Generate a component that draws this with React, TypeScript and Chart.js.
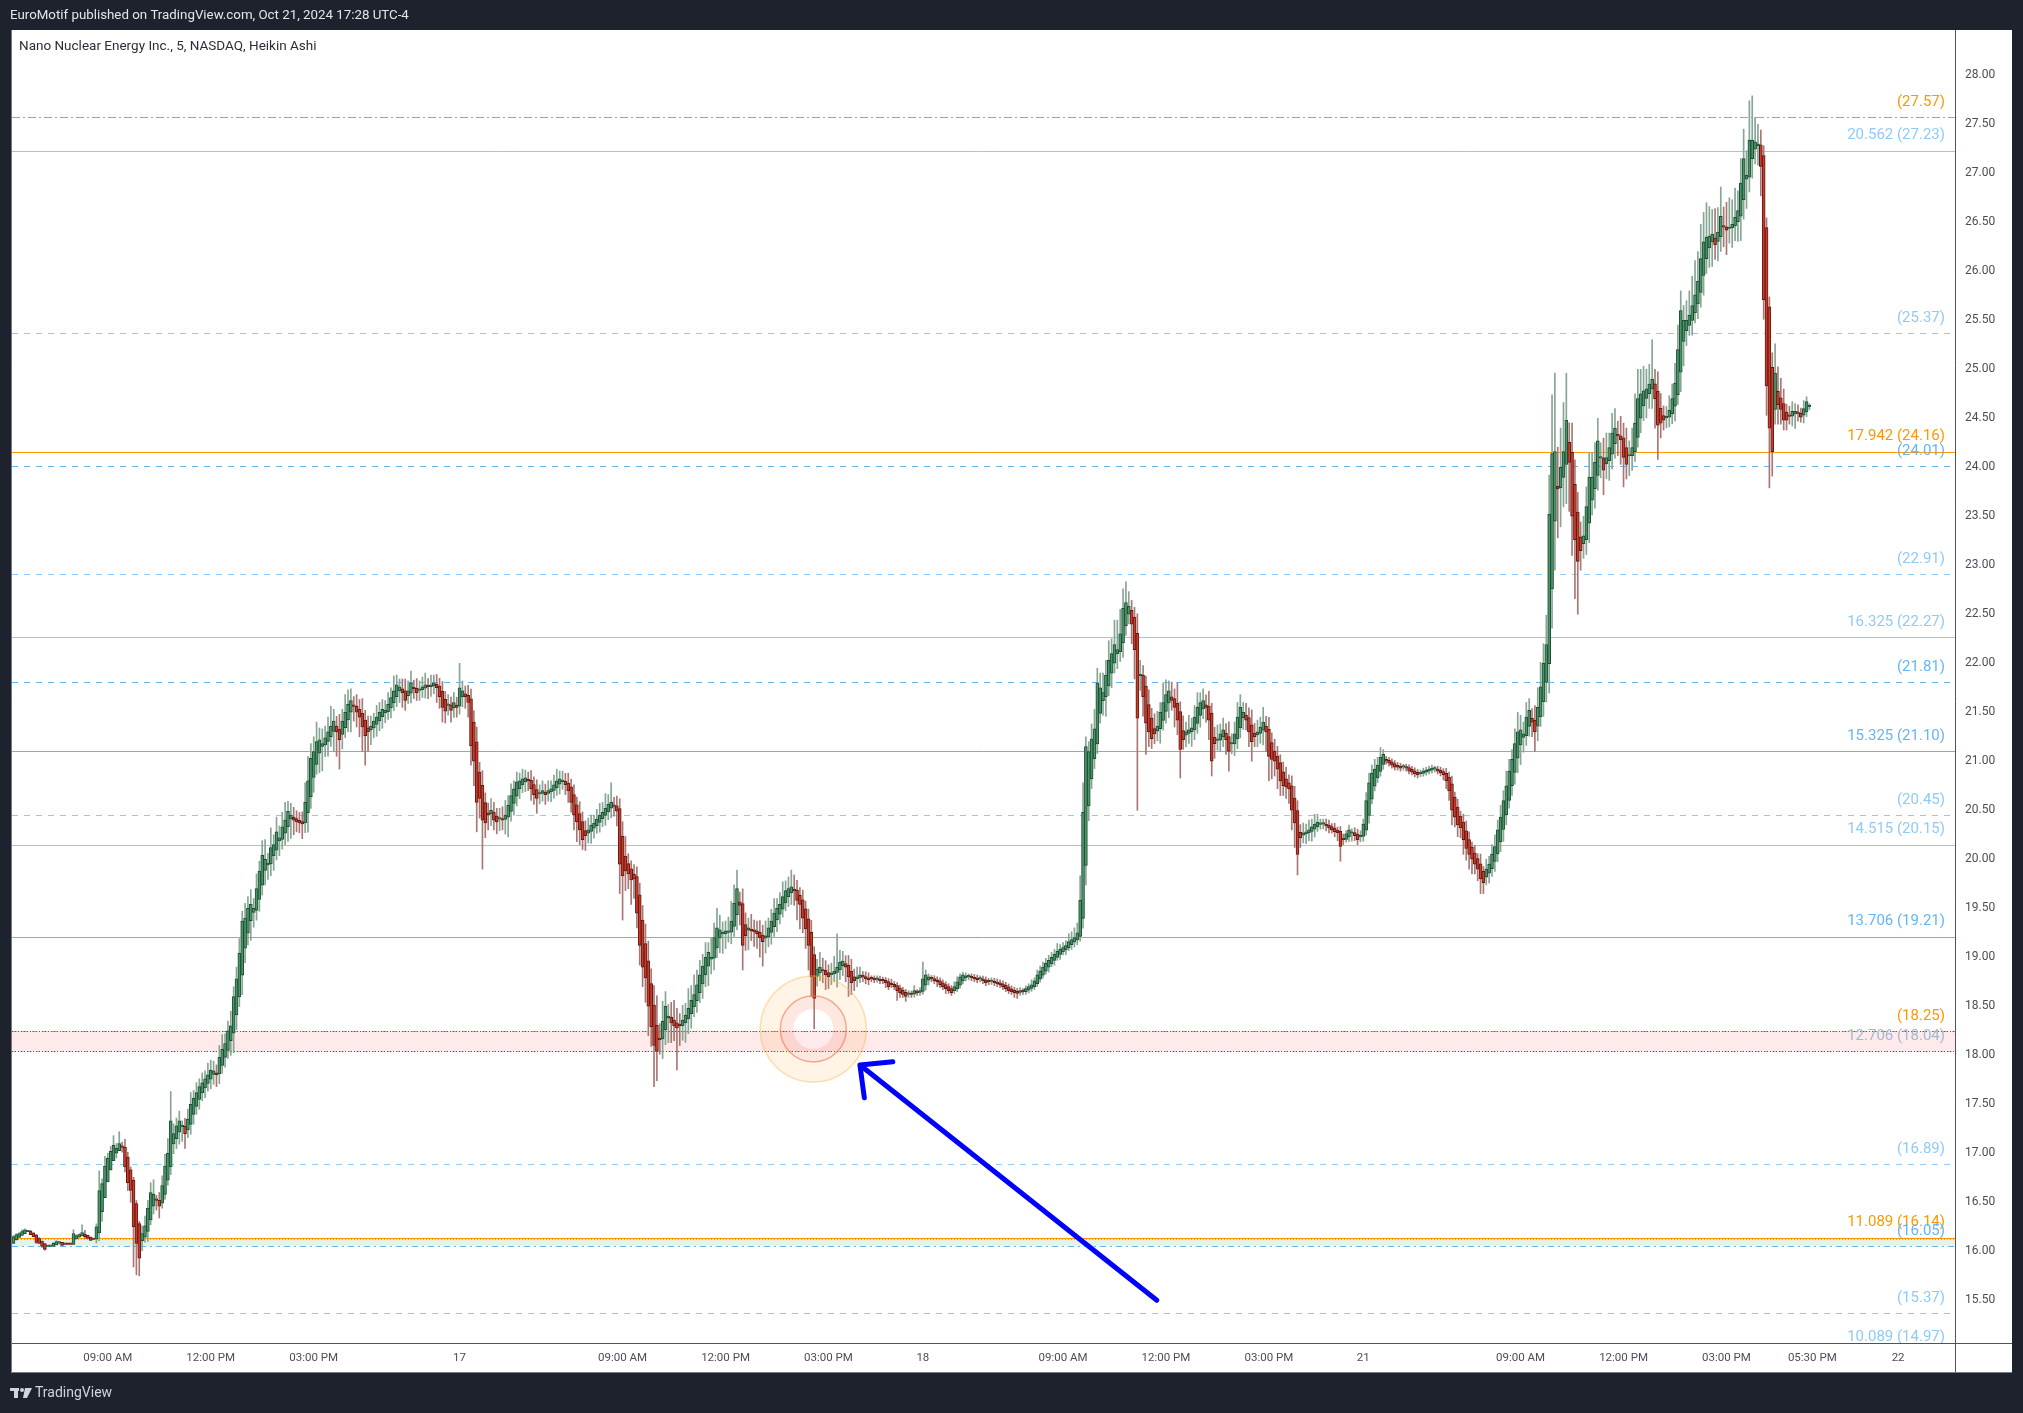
import React, { useEffect, useRef } from 'react';
import { Chart, registerables } from 'chart.js';

Chart.register(...registerables);

const W = 2023;
const H = 1413;

// ---------------- DATA ----------------
const FIRST_OPEN = 16.08;

// Heikin Ashi close per 5-min bar (Oct 16 -> Oct 21)
const closes = [
  16.15,16.17,16.18,16.20,16.22,16.21,16.17,16.15,16.09,16.08,
  16.05,16.02,16.05,16.05,16.08,16.10,16.10,16.06,16.07,16.07,
  16.07,16.18,16.16,16.17,16.19,16.15,16.13,16.11,16.12,16.25,
  16.62,16.69,16.87,16.95,17.02,17.08,17.05,17.10,17.06,16.86,
  16.70,16.62,16.25,16.08,15.93,16.18,16.26,16.44,16.60,16.58,
  16.52,16.46,16.67,16.87,17.00,17.33,17.20,17.28,17.33,17.28,
  17.20,17.35,17.50,17.56,17.62,17.68,17.72,17.76,17.80,17.85,
  17.84,17.80,17.98,18.06,18.12,18.25,18.30,18.60,18.78,19.04,
  19.37,19.40,19.50,19.54,19.50,19.70,19.88,20.04,20.00,19.96,
  20.12,20.15,20.28,20.22,20.33,20.40,20.49,20.45,20.40,20.38,
  20.37,20.36,20.58,20.80,21.03,21.10,21.20,21.22,21.18,21.24,
  21.30,21.36,21.41,21.30,21.22,21.41,21.50,21.58,21.62,21.56,
  21.50,21.45,21.35,21.26,21.30,21.36,21.41,21.45,21.50,21.53,
  21.52,21.58,21.65,21.72,21.78,21.76,21.70,21.62,21.72,21.80,
  21.74,21.70,21.74,21.76,21.78,21.76,21.78,21.80,21.75,21.66,
  21.55,21.51,21.58,21.52,21.60,21.55,21.75,21.72,21.66,21.60,
  21.16,21.00,20.58,20.62,20.40,20.37,20.45,20.50,20.40,20.38,
  20.42,20.40,20.45,20.55,20.65,20.72,20.79,20.80,20.82,20.83,
  20.80,20.72,20.66,20.62,20.68,20.70,20.66,20.70,20.72,20.76,
  20.80,20.82,20.80,20.76,20.70,20.58,20.45,20.38,20.30,20.20,
  20.24,20.30,20.35,20.37,20.41,20.45,20.48,20.52,20.56,20.58,
  20.54,20.49,19.95,19.83,19.88,19.85,19.79,19.80,19.45,19.12,
  18.90,18.79,18.50,18.29,18.10,18.04,18.16,18.35,18.50,18.40,
  18.33,18.30,18.28,18.30,18.36,18.41,18.48,18.56,18.62,18.72,
  18.82,18.91,19.00,19.05,19.00,19.20,19.30,19.28,19.24,19.27,
  19.26,19.37,19.55,19.70,19.53,19.12,19.22,19.30,19.27,19.26,
  19.24,19.20,19.16,19.22,19.30,19.37,19.45,19.50,19.54,19.62,
  19.68,19.70,19.72,19.68,19.58,19.54,19.40,19.29,19.12,18.80,
  18.58,18.88,18.90,18.86,18.82,18.80,18.84,18.86,18.90,18.95,
  18.96,18.90,18.80,18.74,18.76,18.80,18.82,18.80,18.78,18.77,
  18.78,18.77,18.78,18.76,18.76,18.74,18.70,18.72,18.70,18.66,
  18.64,18.62,18.60,18.63,18.62,18.66,18.64,18.66,18.78,18.82,
  18.80,18.78,18.76,18.75,18.72,18.70,18.68,18.66,18.64,18.70,
  18.75,18.80,18.82,18.81,18.80,18.79,18.78,18.77,18.78,18.76,
  18.74,18.75,18.76,18.74,18.73,18.72,18.70,18.68,18.66,18.65,
  18.64,18.63,18.66,18.65,18.68,18.70,18.72,18.76,18.82,18.86,
  18.90,18.94,18.97,19.00,19.03,19.06,19.08,19.10,19.12,19.16,
  19.18,19.20,19.25,19.58,20.48,21.15,21.10,21.23,21.33,21.80,
  21.75,21.70,21.88,22.03,22.10,22.19,22.14,22.30,22.56,22.62,
  22.58,22.40,22.14,21.44,21.88,21.66,21.39,21.30,21.23,21.28,
  21.36,21.50,21.60,21.68,21.72,21.62,21.55,21.42,21.12,21.22,
  21.30,21.32,21.34,21.45,21.55,21.60,21.62,21.55,21.42,21.00,
  21.18,21.22,21.28,21.32,21.22,21.10,21.18,21.28,21.45,21.55,
  21.50,21.42,21.30,21.20,21.25,21.30,21.35,21.40,21.30,21.05,
  21.02,21.00,20.92,20.80,20.75,20.74,20.72,20.50,20.37,20.05,
  20.22,20.27,20.28,20.30,20.33,20.36,20.38,20.36,20.36,20.34,
  20.32,20.30,20.28,20.27,20.13,20.20,20.26,20.30,20.28,20.24,
  20.20,20.24,20.36,20.60,20.78,20.88,20.92,20.96,21.04,21.07,
  21.00,20.98,20.96,20.94,20.94,20.93,20.94,20.93,20.90,20.89,
  20.87,20.86,20.88,20.90,20.91,20.92,20.93,20.92,20.90,20.88,
  20.86,20.80,20.70,20.50,20.43,20.35,20.32,20.20,20.11,20.05,
  20.00,19.95,19.90,19.80,19.76,19.90,19.95,20.05,20.13,20.30,
  20.43,20.60,20.75,20.90,21.02,21.18,21.30,21.32,21.28,21.45,
  21.52,21.40,21.30,21.55,21.76,22.00,22.19,23.52,24.14,24.16,
  23.78,24.00,24.16,24.48,24.05,23.50,23.26,23.04,23.15,23.30,
  23.60,23.90,23.90,24.05,24.27,24.10,23.97,24.10,24.20,24.35,
  24.40,24.32,24.28,24.10,24.03,24.12,24.20,24.45,24.70,24.75,
  24.78,24.80,24.85,24.90,24.70,24.43,24.45,24.48,24.52,24.58,
  24.70,24.86,25.20,25.60,25.50,25.50,25.55,25.65,25.76,25.90,
  26.13,26.30,26.35,26.36,26.38,26.27,26.40,26.56,26.45,26.42,
  26.45,26.48,26.55,26.62,26.90,27.15,26.98,27.34,27.34,27.32,
  27.30,27.07,25.71,24.83,24.40,24.16,24.96,24.64,24.59,24.48,
  24.48,24.52,24.57,24.57,24.55,24.51,24.60,24.67,24.62,
];

// upper shadow above the body, in cents
const wickUp = [
  1,1,1,2,1,0,1,0,0,1, 0,0,0,0,1,1,0,0,0,0, 0,4,1,1,8,4,0,0,0,3,
  20,5,10,5,5,10,5,12,5,8, 5,3,3,3,2,8,10,8,10,15, 5,8,10,12,15,30,10,8,10,5,
  8,10,12,8,10,8,10,8,12,10, 10,8,12,15,10,10,15,10,12,15, 10,15,12,15,10,15,10,15,20,10,
  20,10,15,12,15,18,10,12,10,8, 8,10,20,25,15,15,20,12,15,12, 15,20,12,10,15,12,18,15,12,10,
  12,10,15,10,12,10,8,12,10,10, 10,12,10,15,10,8,10,12,10,12, 8,10,8,10,12,8,10,8,10,8,
  10,8,10,8,10,8,25,10,8,10, 10,12,15,10,15,10,10,12,10,8, 10,12,15,10,12,8,10,8,10,8,
  8,10,8,10,8,10,8,10,8,10, 12,8,10,8,10,8,10,8,12,10, 10,12,10,8,10,12,10,15,10,20,
  8,10,10,15,20,10,8,10,10,12, 15,20,20,15,20,30,15,20,15,12, 15,20,15,12,15,12,20,15,20,15,
  15,12,15,10,20,15,20,15,12,10, 15,20,19,19,10,15,12,10,15,10, 10,12,10,15,10,12,15,10,12,15,
  10,12,17,15,10,8,10,8,10,12, 8,10,15,12,10,8,10,15,34,12, 10,8,10,12,8,10,8,5,5,5,
  3,3,3,3,3,3,3,5,3,3, 3,3,3,3,3,5,3,3,17,5, 3,3,3,3,3,3,3,3,3,5,
  5,3,3,3,3,3,3,3,3,3, 3,3,3,3,3,3,3,3,3,3, 3,3,3,3,3,3,5,3,5,5,
  5,5,5,5,5,8,5,5,5,8, 8,10,10,25,30,10,10,15,20,15, 15,20,15,20,15,25,30,25,20,21,
  15,10,10,20,15,10,10,15,10,15, 15,10,20,15,10,15,10,20,10,15, 10,15,10,12,15,10,12,10,15,10,
  10,15,10,12,10,15,10,12,15,13, 10,12,10,15,10,12,10,15,10,12, 10,12,10,8,10,12,8,10,12,10,
  8,10,8,10,8,10,8,5,5,5, 5,3,5,3,5,5,3,5,3,5, 5,5,5,8,10,8,10,8,10,5,
  3,3,3,3,3,3,3,3,3,3, 3,3,3,3,3,3,3,3,3,3, 3,5,5,8,5,8,5,8,10,8,
  5,8,5,10,5,10,8,10,12,10, 12,10,15,12,10,15,20,15,12,15, 12,10,15,20,25,20,30,40,60,80,
  40,40,50,48,20,30,25,20,15,20, 20,25,25,20,23,15,20,25,15,20, 20,15,20,15,20,15,20,30,30,25,
  25,20,20,40,15,20,15,10,10,15, 15,20,25,20,15,20,25,30,35,30, 35,30,35,30,25,30,25,30,20,25,
  30,25,30,20,25,30,25,40,45,25, 20,15,10,10,10,15,30,25,20,15, 8,10,10,8,8,5,8,5,3,
];

// lower shadow below the body, in cents
const wickDn = [
  0,0,0,0,0,0,0,0,1,0, 1,1,0,0,0,0,1,0,0,0, 0,0,0,0,0,2,0,0,0,4,
  8,10,0,0,0,0,5,0,5,5, 8,12,41,32,18,10,5,10,5,8, 10,12,5,5,5,8,10,10,12,15,
  15,8,10,10,8,10,8,10,8,10, 10,12,10,8,10,8,15,20,15,10, 20,15,12,20,15,10,12,10,15,15,
  12,15,10,15,10,12,15,20,15,10, 10,15,10,20,12,15,10,20,25,12, 15,10,20,25,30,15,10,12,20,15,
  15,20,25,30,20,15,10,12,10,12, 10,8,10,8,10,12,15,10,8,10, 10,8,10,8,10,12,10,8,15,12,
  15,12,10,12,10,10,8,10,12,15, 20,25,30,20,50,15,15,12,10,12, 12,10,15,20,10,12,10,10,8,10,
  10,12,10,15,10,8,10,8,10,8, 8,10,8,10,12,10,15,20,15,10, 15,10,12,10,8,10,8,10,8,10,
  10,15,30,45,20,15,25,20,15,20, 20,25,30,20,42,30,15,20,15,25, 20,15,43,20,15,20,15,15,10,12,
  10,15,12,20,15,12,10,15,20,15, 10,12,10,15,20,25,15,20,10,15, 15,20,25,15,10,12,10,12,10,8,
  8,10,12,15,20,25,15,20,25,20, 31,10,8,12,15,12,10,8,15,10, 10,15,20,12,10,8,5,5,5,5,
  3,3,3,3,3,5,3,3,3,10, 5,3,5,3,3,3,3,3,3,5, 5,3,3,5,3,3,5,3,3,3,
  3,3,3,3,3,3,3,3,3,3, 3,3,3,3,3,3,3,3,3,3, 5,5,3,3,3,3,3,3,3,3,
  3,3,5,3,5,3,5,3,5,3, 5,5,5,5,10,20,15,10,10,10, 10,15,20,10,15,10,15,10,15,10,
  10,20,30,94,15,20,32,15,10,10, 10,15,10,12,15,10,20,15,29,10, 12,10,15,10,10,12,10,15,20,15,
  15,10,12,10,15,20,10,12,10,10, 12,10,15,20,10,12,10,15,20,25, 20,15,20,15,10,12,15,20,25,21,
  10,8,10,8,10,8,5,5,5,5, 5,3,5,8,15,5,3,5,8,5, 5,5,5,5,8,5,5,5,5,5,
  3,3,3,3,3,3,3,3,3,3, 3,3,3,3,3,3,3,3,3,3, 5,8,10,15,10,12,10,15,12,15,
  15,10,12,15,11,8,10,8,10,8, 10,12,10,8,10,12,15,20,15,10, 10,15,20,15,10,15,20,30,40,50,
  50,40,30,40,50,40,60,54,20,15, 15,20,15,20,15,20,25,15,20,15, 15,20,25,30,15,20,15,10,10,15,
  15,20,15,20,30,35,15,10,10,10, 10,15,10,20,25,15,10,15,10,15, 15,20,15,20,25,15,20,15,20,25,
  15,20,15,20,25,20,30,15,20,15, 20,30,20,30,61,25,15,20,15,10, 10,8,10,15,8,5,8,5,3,
];

// time axis labels (bar index -> text)
const timeTickBars = [33, 69, 105, 156, 213, 249, 285, 318, 367, 403, 439, 472, 527, 563, 599, 629, 659];
const timeTickLabels = ['09:00 AM', '12:00 PM', '03:00 PM', '17', '09:00 AM', '12:00 PM', '03:00 PM', '18',
  '09:00 AM', '12:00 PM', '03:00 PM', '21', '09:00 AM', '12:00 PM', '03:00 PM', '05:30 PM', '22'];

const priceTicks = [15.5, 16, 16.5, 17, 17.5, 18, 18.5, 19, 19.5, 20, 20.5, 21, 21.5, 22, 22.5, 23, 23.5,
  24, 24.5, 25, 25.5, 26, 26.5, 27, 27.5, 28];

// Fibonacci / level lines
const levelPrices = [27.57, 27.23, 25.37, 24.16, 24.01, 22.91, 22.27, 21.81, 21.10, 20.45, 20.15, 19.21,
  18.25, 18.04, 16.89, 16.14, 16.05, 15.37, 14.97];
const levelValues = ['', '20.562', '', '17.942', '', '', '16.325', '', '15.325', '', '14.515', '13.706',
  '', '12.706', '', '11.089', '', '', '10.089'];

// zones (price ranges)
const redZone = [18.04, 18.25];
const greenZone = [16.05, 16.14];

// annotation anchors (bar index, price)
const circleAnchor = { bar: 279.7, price: 18.268 };
const arrowTail = { bar: 399.8, price: 15.5 };
const arrowTip = { bar: 296.0, price: 17.9 };

// ---------------- STYLES ----------------
const DARK = '#1e222d';
const ORANGE = '#ff9800';
const LBLUE = '#90caf9';
const MBLUE = '#64b5f6';
const FONT = "Roboto, 'Noto Sans', sans-serif";

type LStyle = { color: string; text: string; dash: number[] };
const levelStyles: LStyle[] = [
  { color: ORANGE, text: ORANGE, dash: [8, 3, 2, 3] },
  { color: LBLUE, text: LBLUE, dash: [] },
  { color: LBLUE, text: LBLUE, dash: [6, 6] },
  { color: ORANGE, text: ORANGE, dash: [] },
  { color: MBLUE, text: MBLUE, dash: [6, 6] },
  { color: LBLUE, text: LBLUE, dash: [6, 6] },
  { color: LBLUE, text: LBLUE, dash: [] },
  { color: MBLUE, text: MBLUE, dash: [6, 6] },
  { color: MBLUE, text: MBLUE, dash: [] },
  { color: LBLUE, text: LBLUE, dash: [6, 6] },
  { color: LBLUE, text: LBLUE, dash: [] },
  { color: MBLUE, text: MBLUE, dash: [] },
  { color: ORANGE, text: ORANGE, dash: [5, 5] },
  { color: LBLUE, text: '#a3b9d0', dash: [4, 4] },
  { color: LBLUE, text: LBLUE, dash: [6, 6] },
  { color: ORANGE, text: ORANGE, dash: [] },
  { color: MBLUE, text: MBLUE, dash: [6, 4, 2, 4] },
  { color: LBLUE, text: LBLUE, dash: [6, 6] },
  { color: LBLUE, text: LBLUE, dash: [] },
];

const UP_FILL = '#4a9468';
const UP_BORDER = '#1e4d33';
const DN_FILL = '#cc3b2c';
const DN_BORDER = '#5e1a12';
const UP_WICK = '#86a593';
const DN_WICK = '#a87773';

// ---------------- HEIKIN ASHI DERIVATION ----------------
const opens: number[] = [];
closes.forEach((c, i) => {
  opens.push(i === 0 ? FIRST_OPEN : (opens[i - 1] + closes[i - 1]) / 2);
});
const highs = closes.map((c, i) => Math.max(opens[i], c) + (wickUp[i] || 0) / 100);
const lows = closes.map((c, i) => Math.min(opens[i], c) - (wickDn[i] || 0) / 100);
const isUp = closes.map((c, i) => c >= opens[i]);

const decorPlugin = {
  id: 'tvDecor',
  beforeDraw(chart: any) {
    const { ctx } = chart;
    const a = chart.chartArea;
    const ys = chart.scales.y;
    const xs = chart.scales.x;
    ctx.save();
    ctx.fillStyle = DARK;
    ctx.fillRect(0, 0, chart.width, chart.height);
    ctx.fillStyle = '#ffffff';
    ctx.fillRect(a.left, a.top, ys.right - a.left, xs.bottom - a.top);

    // header
    ctx.fillStyle = '#e3e5ea';
    ctx.font = `13.3px ${FONT}`;
    ctx.textBaseline = 'middle';
    ctx.textAlign = 'left';
    ctx.fillText('EuroMotif published on TradingView.com, Oct 21, 2024 17:28 UTC-4', a.left - 2, a.top - 14.5);

    // title
    ctx.fillStyle = '#2a2e39';
    ctx.font = `13.5px ${FONT}`;
    ctx.fillText('Nano Nuclear Energy Inc., 5, NASDAQ, Heikin Ashi', a.left + 7, a.top + 16.5);

    // footer logo + text
    const fy = xs.bottom + 20;
    ctx.fillStyle = '#d1d4dc';
    ctx.fillRect(a.left - 2, fy - 5, 9, 3);
    ctx.fillRect(a.left + 2, fy - 5, 4, 10);
    ctx.beginPath();
    ctx.arc(a.left + 10, fy - 3, 2, 0, Math.PI * 2);
    ctx.fill();
    ctx.beginPath();
    ctx.moveTo(a.left + 13, fy - 5);
    ctx.lineTo(a.left + 20, fy - 5);
    ctx.lineTo(a.left + 15, fy + 5);
    ctx.lineTo(a.left + 11, fy + 5);
    ctx.closePath();
    ctx.fill();
    ctx.font = `14px ${FONT}`;
    ctx.fillText('TradingView', a.left + 23, fy);
    ctx.restore();
  },
  beforeDatasetsDraw(chart: any) {
    const { ctx } = chart;
    const a = chart.chartArea;
    const ys = chart.scales.y;
    ctx.save();
    ctx.beginPath();
    ctx.rect(a.left, a.top, a.right - a.left, a.bottom - a.top);
    ctx.clip();

    // zones
    const rz0 = ys.getPixelForValue(redZone[1]);
    const rz1 = ys.getPixelForValue(redZone[0]);
    ctx.fillStyle = 'rgba(242, 54, 69, 0.11)';
    ctx.fillRect(a.left, rz0, a.right - a.left, rz1 - rz0);
    const gz0 = ys.getPixelForValue(greenZone[1]);
    const gz1 = ys.getPixelForValue(greenZone[0]);
    ctx.fillStyle = 'rgba(76, 175, 80, 0.15)';
    ctx.fillRect(a.left, gz0, a.right - a.left, gz1 - gz0);

    // level lines
    levelPrices.forEach((p, i) => {
      const st = levelStyles[i];
      const y = Math.round(ys.getPixelForValue(p)) + 0.5;
      ctx.strokeStyle = st.color;
      ctx.lineWidth = 1;
      ctx.setLineDash(st.dash);
      ctx.beginPath();
      ctx.moveTo(a.left, y);
      ctx.lineTo(a.right, y);
      ctx.stroke();
    });

    // zone edge dotted lines
    ctx.setLineDash([1, 2]);
    ctx.strokeStyle = '#d8283c';
    ctx.beginPath();
    ctx.moveTo(a.left, Math.round(rz0) + 0.5);
    ctx.lineTo(a.right, Math.round(rz0) + 0.5);
    ctx.stroke();
    ctx.strokeStyle = '#9c2a6a';
    ctx.beginPath();
    ctx.moveTo(a.left, Math.round(rz1) + 0.5);
    ctx.lineTo(a.right, Math.round(rz1) + 0.5);
    ctx.stroke();
    ctx.strokeStyle = '#8bc34a';
    ctx.beginPath();
    ctx.moveTo(a.left, Math.round(gz0) + 1.5);
    ctx.lineTo(a.right, Math.round(gz0) + 1.5);
    ctx.stroke();
    ctx.setLineDash([]);

    // labels
    ctx.font = `15px ${FONT}`;
    ctx.textAlign = 'right';
    ctx.textBaseline = 'middle';
    levelPrices.forEach((p, i) => {
      const st = levelStyles[i];
      const y = ys.getPixelForValue(p);
      const txt = (levelValues[i] ? levelValues[i] + ' ' : '') + '(' + p.toFixed(2) + ')';
      ctx.fillStyle = st.text;
      ctx.fillText(txt, a.right - 10, y - 15);
    });
    ctx.restore();
  },
  afterDatasetsDraw(chart: any) {
    const { ctx } = chart;
    const a = chart.chartArea;
    const xs = chart.scales.x;
    const ys = chart.scales.y;
    ctx.save();
    ctx.beginPath();
    ctx.rect(a.left, a.top, a.right - a.left, a.bottom - a.top);
    ctx.clip();

    // highlight circle (donut)
    const cx = xs.getPixelForValue(circleAnchor.bar);
    const cy = ys.getPixelForValue(circleAnchor.price);
    ctx.beginPath();
    ctx.arc(cx, cy, 53, 0, Math.PI * 2);
    ctx.arc(cx, cy, 33, 0, Math.PI * 2, true);
    ctx.fillStyle = 'rgba(255, 167, 38, 0.12)';
    ctx.fill();
    ctx.beginPath();
    ctx.arc(cx, cy, 33, 0, Math.PI * 2);
    ctx.arc(cx, cy, 20, 0, Math.PI * 2, true);
    ctx.fillStyle = 'rgba(240, 110, 70, 0.16)';
    ctx.fill();
    ctx.lineWidth = 1.5;
    ctx.strokeStyle = 'rgba(255, 183, 77, 0.45)';
    ctx.beginPath();
    ctx.arc(cx, cy, 53, 0, Math.PI * 2);
    ctx.stroke();
    ctx.strokeStyle = 'rgba(235, 120, 80, 0.6)';
    ctx.beginPath();
    ctx.arc(cx, cy, 33, 0, Math.PI * 2);
    ctx.stroke();

    // arrow
    const tx = xs.getPixelForValue(arrowTail.bar);
    const ty = ys.getPixelForValue(arrowTail.price);
    const hx = xs.getPixelForValue(arrowTip.bar);
    const hy = ys.getPixelForValue(arrowTip.price);
    const ang = Math.atan2(ty - hy, tx - hx);
    const arm = 33;
    const spread = (44 * Math.PI) / 180;
    ctx.strokeStyle = '#0000ff';
    ctx.lineWidth = 5;
    ctx.lineCap = 'round';
    ctx.lineJoin = 'round';
    ctx.beginPath();
    ctx.moveTo(tx, ty);
    ctx.lineTo(hx, hy);
    ctx.moveTo(hx + arm * Math.cos(ang - spread), hy + arm * Math.sin(ang - spread));
    ctx.lineTo(hx, hy);
    ctx.lineTo(hx + arm * Math.cos(ang + spread), hy + arm * Math.sin(ang + spread));
    ctx.stroke();
    ctx.restore();
  },
  afterDraw(chart: any) {
    const { ctx } = chart;
    const a = chart.chartArea;
    const xs = chart.scales.x;
    const ys = chart.scales.y;
    ctx.save();
    ctx.strokeStyle = '#50535e';
    ctx.lineWidth = 1;
    ctx.beginPath();
    ctx.moveTo(a.right + 0.5, a.top);
    ctx.lineTo(a.right + 0.5, xs.bottom);
    ctx.moveTo(a.left, a.bottom + 0.5);
    ctx.lineTo(ys.right, a.bottom + 0.5);
    ctx.stroke();
    ctx.strokeStyle = '#787b86';
    ctx.beginPath();
    ctx.moveTo(a.left - 0.5, a.top);
    ctx.lineTo(a.left - 0.5, xs.bottom);
    ctx.moveTo(a.left, xs.bottom - 0.5);
    ctx.lineTo(ys.right, xs.bottom - 0.5);
    ctx.stroke();
    ctx.restore();
  },
};

export default function App() {
  const ref = useRef<HTMLCanvasElement | null>(null);

  useEffect(() => {
    document.body.style.margin = '0';
    document.body.style.background = DARK;
    document.documentElement.style.overflow = 'hidden';
    if (!ref.current) return;

    const wickData = closes.map((_, i) => ({ x: i, y: [lows[i], highs[i]] }));
    const bodyData = closes.map((c, i) => ({ x: i, y: [opens[i], c] }));

    const chart = new Chart(ref.current, {
      type: 'bar',
      data: {
        datasets: [
          {
            label: 'wicks',
            data: wickData as any,
            backgroundColor: isUp.map((u) => (u ? UP_WICK : DN_WICK)),
            borderWidth: 0,
            barThickness: 1,
            grouped: false,
            order: 2,
          } as any,
          {
            label: 'bodies',
            data: bodyData as any,
            backgroundColor: isUp.map((u) => (u ? UP_FILL : DN_FILL)),
            borderColor: isUp.map((u) => (u ? UP_BORDER : DN_BORDER)),
            borderWidth: 1,
            borderSkipped: false,
            barThickness: 3,
            minBarLength: 1.5,
            grouped: false,
            order: 1,
          } as any,
        ],
      },
      options: {
        animation: false,
        responsive: false,
        devicePixelRatio: 1,
        events: [],
        layout: { padding: { left: 12, top: 30, right: 11, bottom: 40 } },
        plugins: { legend: { display: false }, tooltip: { enabled: false } },
        scales: {
          x: {
            type: 'linear',
            min: -0.5,
            max: 678.9,
            offset: false,
            grid: { display: false, drawTicks: false },
            border: { display: false },
            afterBuildTicks: (s: any) => {
              s.ticks = timeTickBars.map((v) => ({ value: v }));
            },
            afterFit: (s: any) => {
              s.height = 30;
            },
            ticks: {
              autoSkip: false,
              maxRotation: 0,
              padding: 8,
              color: '#4b4e57',
              font: { family: FONT, size: 11.5 },
              callback: (_v: any, idx: number) => timeTickLabels[idx],
            },
          },
          y: {
            type: 'linear',
            position: 'right',
            min: 15.064,
            max: 28.462,
            grid: { display: false, drawTicks: false },
            border: { display: false },
            afterBuildTicks: (s: any) => {
              s.ticks = priceTicks.map((v) => ({ value: v }));
            },
            afterFit: (s: any) => {
              s.width = 57;
            },
            ticks: {
              padding: 10,
              color: '#4b4e57',
              font: { family: FONT, size: 12 },
              callback: (v: any) => Number(v).toFixed(2),
            },
          },
        },
      } as any,
      plugins: [decorPlugin],
    });

    return () => chart.destroy();
  }, []);

  return (
    <div style={{ width: W, height: H, overflow: 'hidden' }}>
      <canvas ref={ref} width={W} height={H} style={{ display: 'block', width: W, height: H }} />
    </div>
  );
}
